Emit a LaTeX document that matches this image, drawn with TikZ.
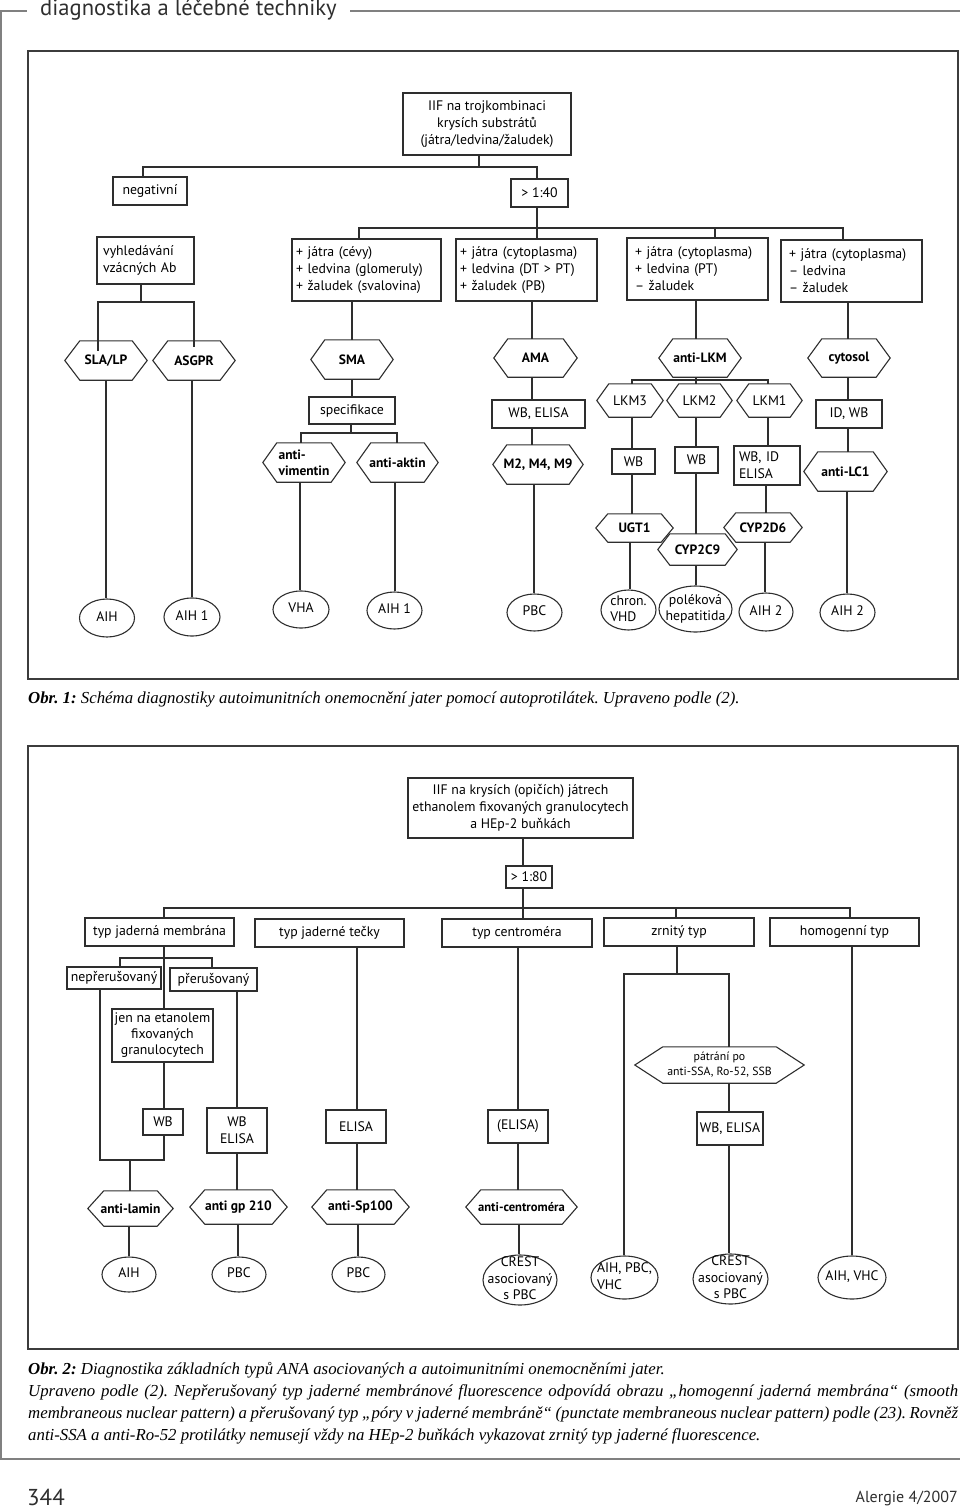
\documentclass[tikz,border=0pt]{standalone}
\usepackage{fontspec}
\setmainfont{Liberation Serif}
\newfontfamily\dgf{PT Sans}
\usetikzlibrary{shapes.geometric}
\definecolor{ink}{HTML}{2E2E2E}
\definecolor{frm}{HTML}{3C3C3C}
\definecolor{pgl}{HTML}{808080}
\newcommand\eltext[2][c]{\makebox[0pt]{\raisebox{-3.7pt}[0pt][0pt]{\begin{tabular}[c]{@{}#1@{}}#2\end{tabular}}}}
\newcommand\conn[3]{\coordinate (cx) at (#3,0); \draw[ln] (#1.south -| cx) -- (#2.north -| cx);}
\newcommand\capf{\frenchspacing\itshape\fontsize{16.8}{22}\selectfont}
\begin{document}
\begin{tikzpicture}[x=1pt,y=-1pt,
 ln/.style={draw=ink,line width=1.1pt},
 box/.style={draw=ink,line width=1.1pt,inner sep=2pt,align=center,font=\dgf\fontsize{13.8}{17}\selectfont},
 hx/.style={inner sep=0pt,align=center,font=\dgf\bfseries\fontsize{13.5}{16}\selectfont},
 hxr/.style={hx,font=\dgf\fontsize{13.8}{16}\selectfont},
 ell/.style={draw=ink,line width=1.1pt,ellipse,inner sep=0pt,font=\dgf\fontsize{13.8}{16.5}\selectfont},
 frame/.style={draw=frm,line width=1.2pt},
 pg/.style={draw=pgl,line width=1.2pt}]
\useasboundingbox (0,0) rectangle (960,1512);

% page furniture
\node[anchor=west,inner sep=0pt,text=ink,font=\dgf\fontsize{22.6}{22.6}\selectfont] (hdr) at (40,10) {diagnostika a léčebné techniky};
\draw[pg] (0,11) -- (27,11);
\draw[pg] (350,11) -- (960,11);
\draw[pg] (1,11) -- (1,1459) -- (960,1459);
\node[anchor=west,inner sep=0pt,text=ink,font=\dgf\fontsize{23}{23}\selectfont] (pnum) at (27,1497) {344};
\node[anchor=east,inner sep=0pt,text=ink,font=\dgf\fontsize{16}{16}\selectfont] (journal) at (958,1498) {Alergie 4/2007};

% frames
\draw[frame] (28,51) rectangle (958,679);
\draw[frame] (28,746) rectangle (958,1349);

% captions
\node[anchor=west,inner sep=0pt,font=\capf] (cap1) at (28,699) {\textbf{Obr. 1:} Schéma diagnostiky autoimunitních onemocnění jater pomocí autoprotilátek. Upraveno podle (2).};
\node[anchor=west,inner sep=0pt,font=\capf] (cap2a) at (28,1370) {\textbf{Obr. 2:} Diagnostika základních typů ANA asociovaných a autoimunitními onemocněními jater.};
\node[anchor=west,inner sep=0pt,font=\capf] (cap2b) at (28,1392) {\makebox[930pt][s]{Upraveno podle (2). Nepřerušovaný typ jaderné membránové fluorescence odpovídá obrazu „homogenní jaderná membrána“ (smooth}};
\node[anchor=west,inner sep=0pt,font=\capf] (cap2c) at (28,1414) {\makebox[930pt][s]{membraneous nuclear pattern) a přerušovaný typ „póry v jaderné membráně“ (punctate membraneous nuclear pattern) podle (23). Rovněž}};
\node[anchor=west,inner sep=0pt,font=\capf] (cap2d) at (28,1436) {anti-SSA a anti-Ro-52 protilátky nemusejí vždy na HEp-2 buňkách vykazovat zrnitý typ jaderné fluorescence.};

% ===== top chart =====
\node[box,minimum width=168pt,minimum height=62pt] (root1) at (487,124) {IIF na trojkombinaci\\krysích substrátů\\(játra/ledvina/žaludek)};
\node[box,minimum width=74pt,minimum height=28pt] (neg) at (150,191) {negativní};
\node[box,minimum width=57pt,minimum height=28pt] (t40) at (539.5,193) {> 1:40};
\node[box,align=left,text width=85pt,inner xsep=6pt,minimum height=47pt] (vyh) at (145.5,260.5) {vyhledávání\\vzácných Ab};
\node[box,align=left,text width=141pt,inner xsep=4pt,minimum height=62pt] (b1) at (366.5,270) {+ játra (cévy)\\+ ledvina (glomeruly)\\+ žaludek (svalovina)};
\node[box,align=left,text width=133pt,inner xsep=4pt,minimum height=62pt] (b2) at (526.5,270) {+ játra (cytoplasma)\\+ ledvina (DT > PT)\\+ žaludek (PB)};
\node[box,align=left,text width=125pt,inner xsep=8pt,minimum height=62pt] (b3) at (697.5,269) {+ játra (cytoplasma)\\+ ledvina (PT)\\– žaludek};
\node[box,align=left,text width=125pt,inner xsep=8pt,minimum height=62pt] (b4) at (851.5,271) {+ játra (cytoplasma)\\– ledvina\\– žaludek};

\node[hx,minimum width=82pt,minimum height=39pt] (slalp) at (106,360.5) {SLA/LP};
\node[hx,minimum width=82pt,minimum height=39pt] (asgpr) at (194,360.5) {ASGPR};
\node[hx,minimum width=82pt,minimum height=39pt] (sma) at (352,359.5) {SMA};
\node[hx,minimum width=83pt,minimum height=38pt] (ama) at (535.5,358) {AMA};
\node[hx,minimum width=82pt,minimum height=38pt] (alkm) at (700,358) {anti-LKM};
\node[hx,minimum width=82pt,minimum height=38pt] (cyto) at (849,358) {cytosol};

\node[box,minimum width=86pt,minimum height=27pt] (spec) at (352,410.5) {specifikace};
\node[hx,align=left,minimum width=82pt,minimum height=39pt] (vim) at (304,462.5) {anti-\\vimentin};
\node[hx,minimum width=81pt,minimum height=39pt] (akt) at (397.5,462.5) {anti-aktin};
\node[box,minimum width=93pt,minimum height=28pt] (wbe) at (538.5,414) {WB, ELISA};
\node[hx,minimum width=90pt,minimum height=39pt] (m249) at (538,464.5) {M2, M4, M9};
\node[hxr,minimum width=66pt,minimum height=33pt] (lkm3) at (630,400.5) {LKM3};
\node[hxr,minimum width=65pt,minimum height=33pt] (lkm2) at (699.5,400.5) {LKM2};
\node[hxr,minimum width=65pt,minimum height=33pt] (lkm1) at (769.5,400.5) {LKM1};
\node[box,minimum width=43pt,minimum height=25pt] (wb3) at (633.5,461.5) {WB};
\node[box,minimum width=43pt,minimum height=26pt] (wb2) at (696.5,460) {WB};
\node[box,align=left,text width=56pt,inner xsep=5pt,minimum height=39pt] (wbid) at (767,465.5) {WB, ID\\ELISA};
\node[box,minimum width=66pt,minimum height=28pt] (idwb) at (849,414) {ID, WB};
\node[hx,minimum width=83pt,minimum height=39pt] (lc1) at (845.5,471.5) {anti-LC1};
\node[hx,minimum width=77pt,minimum height=28pt] (ugt1) at (634.5,528) {UGT1};
\node[hx,minimum width=79pt,minimum height=31pt] (c2c9) at (697.5,549.5) {CYP2C9};
\node[hx,minimum width=78pt,minimum height=29pt] (c2d6) at (763,527.5) {CYP2D6};

\node[ell,minimum width=55pt,minimum height=38pt] (e1) at (107,618) {\eltext{AIH}};
\node[ell,minimum width=56pt,minimum height=38pt] (e2) at (192,617) {\eltext{AIH 1}};
\node[ell,minimum width=56pt,minimum height=37pt] (e3) at (301,609.5) {\eltext{VHA}};
\node[ell,minimum width=55pt,minimum height=37pt] (e4) at (394.5,610.5) {\eltext{AIH 1}};
\node[ell,minimum width=55pt,minimum height=37pt] (e5) at (534.5,612.5) {\eltext{PBC}};
\node[ell,minimum width=55pt,minimum height=40pt] (e6) at (628.5,610) {\eltext[l]{chron.\\VHD}};
\node[ell,minimum width=73pt,minimum height=46pt] (e7) at (695.5,609) {\eltext{poléková\\hepatitida}};
\node[ell,minimum width=54pt,minimum height=38pt] (e8) at (766,612) {\eltext{AIH 2}};
\node[ell,minimum width=55pt,minimum height=37pt] (e9) at (847.5,612.5) {\eltext{AIH 2}};

% ===== bottom chart =====
\node[box,minimum width=225pt,minimum height=60pt] (root2) at (520.5,808) {IIF na krysích (opičích) játrech\\ethanolem fixovaných granulocytech\\a HEp-2 buňkách};
\node[box,minimum width=46pt,minimum height=22pt] (t80) at (529,877) {> 1:80};
\node[box,minimum width=149pt,minimum height=28pt] (tjm) at (159.5,932) {typ jaderná membrána};
\node[box,minimum width=149pt,minimum height=28pt] (tjt) at (329.5,933) {typ jaderné tečky};
\node[box,minimum width=150pt,minimum height=28pt] (tc) at (517,933) {typ centroméra};
\node[box,minimum width=150pt,minimum height=28pt] (zt) at (679,932) {zrnitý typ};
\node[box,minimum width=149pt,minimum height=28pt] (ht) at (844.5,932) {homogenní typ};
\node[box,minimum width=94pt,minimum height=22pt] (nep) at (114,978) {nepřerušovaný};
\node[box,minimum width=87pt,minimum height=23pt] (pre) at (213.5,979.5) {přerušovaný};
\node[box,minimum width=101pt,minimum height=53pt,font=\dgf\fontsize{13.8}{16}\selectfont] (jen) at (162.5,1035.5) {jen na etanolem\\fixovaných\\granulocytech};
\node[box,minimum width=40pt,minimum height=26pt] (wbA) at (163,1122) {WB};
\node[box,minimum width=60pt,minimum height=45pt] (wbel) at (237,1130.5) {WB\\ELISA};
\node[box,minimum width=60pt,minimum height=33pt] (elisa) at (356,1126.5) {ELISA};
\node[box,minimum width=60pt,minimum height=33pt] (pelisa) at (518,1126.5) {(ELISA)};
\node[hxr,minimum width=169pt,minimum height=36pt,font=\dgf\fontsize{11.8}{15}\selectfont] (patr) at (719.5,1065) {pátrání po\\anti-SSA, Ro-52, SSB};
\node[box,minimum width=66pt,minimum height=33pt] (wbel2) at (730,1128.5) {WB, ELISA};
\node[hx,minimum width=85pt,minimum height=35pt] (lamin) at (130.5,1208.5) {anti-lamin};
\node[hx,minimum width=97pt,minimum height=34pt] (gp210) at (238.5,1207) {anti gp 210};
\node[hx,minimum width=97pt,minimum height=34pt] (sp100) at (360.5,1207) {anti-Sp100};
\node[hx,minimum width=111pt,minimum height=34pt,font=\dgf\bfseries\fontsize{12.6}{14}\selectfont] (centr) at (521.5,1207) {anti-centroméra};

\node[ell,minimum width=54pt,minimum height=35pt] (f1) at (129,1274.5) {\eltext{AIH}};
\node[ell,minimum width=54pt,minimum height=35pt] (f2) at (239,1274.5) {\eltext{PBC}};
\node[ell,minimum width=53pt,minimum height=35pt] (f3) at (358.5,1274.5) {\eltext{PBC}};
\node[ell,minimum width=74pt,minimum height=50pt] (f4) at (520,1280) {\eltext{CREST\\asociovaný\\s PBC}};
\node[ell,minimum width=67pt,minimum height=43pt] (f5) at (624.5,1277.5) {\eltext[l]{AIH, PBC,\\VHC}};
\node[ell,minimum width=75pt,minimum height=50pt] (f6) at (730.5,1279) {\eltext{CREST\\asociovaný\\s PBC}};
\node[ell,minimum width=68pt,minimum height=43pt] (f7) at (852,1277.5) {\eltext{AIH, VHC}};

% hexagon outlines
\foreach \n/\d in {slalp/15,asgpr/15,sma/14,ama/14,alkm/14,cyto/14,vim/14,akt/14,m249/14,lc1/14,lkm3/12,lkm2/12,lkm1/12,ugt1/12,c2c9/12,c2d6/12,patr/28,lamin/16,gp210/15,sp100/15,centr/15}
  \draw[ln] (\n.west) -- ([xshift=\d]\n.north west) -- ([xshift=-\d]\n.north east) -- (\n.east) -- ([xshift=-\d]\n.south east) -- ([xshift=\d]\n.south west) -- cycle;

% ===== connectors top =====
\coordinate (j1) at (479,167); \coordinate (j1l) at (143,167); \coordinate (j1r) at (537,167);
\draw[ln] (root1.south -| j1) -- (j1);
\draw[ln] (neg.north -| j1l) -- (j1l) -- (j1r) -- (t40.north -| j1r);
\coordinate (j2l) at (359,228); \coordinate (j2r) at (843,228); \coordinate (j2b) at (537,228); \coordinate (j2c) at (715,228);
\draw[ln] (t40.south -| j2b) -- (b2.north -| j2b);
\draw[ln] (b1.north -| j2l) -- (j2l) -- (j2r) -- (b4.north -| j2r);
\draw[ln] (j2c) -- (b3.north -| j2c);
\coordinate (j3) at (141,302); \coordinate (j3l) at (98,302); \coordinate (j3r) at (194,302);
\draw[ln] (vyh.south -| j3) -- (j3);
\draw[ln] ([yshift=-10pt]slalp.north -| j3l) -- (j3l) -- (j3r) -- ([yshift=-6pt]asgpr.north -| j3r);
\conn{b1}{sma}{352} \conn{b2}{ama}{532} \conn{b3}{alkm}{696} \conn{b4}{cyto}{848}
\conn{slalp}{e1}{106} \conn{asgpr}{e2}{192}
\conn{sma}{spec}{352}
\coordinate (j4) at (351,433); \coordinate (j4l) at (301,433); \coordinate (j4r) at (397,433);
\draw[ln] (spec.south -| j4) -- (j4);
\draw[ln] (vim.north -| j4l) -- (j4l) -- (j4r) -- (akt.north -| j4r);
\conn{vim}{e3}{300} \conn{akt}{e4}{395}
\conn{ama}{wbe}{532} \conn{wbe}{m249}{532} \conn{m249}{e5}{534}
\coordinate (j5) at (696,380); \coordinate (j5l) at (632,380); \coordinate (j5r) at (768,380);
\draw[ln] (alkm.south -| j5) -- (lkm2.north -| j5);
\draw[ln] (lkm3.north -| j5l) -- (j5l) -- (j5r) -- (lkm1.north -| j5r);
\conn{lkm3}{wb3}{632} \conn{wb3}{ugt1}{632} \conn{ugt1}{e6}{630}
\conn{lkm2}{wb2}{696} \conn{wb2}{c2c9}{696} \conn{c2c9}{e7}{696}
\conn{lkm1}{wbid}{768} \conn{wbid}{c2d6}{766} \conn{c2d6}{e8}{765}
\conn{cyto}{idwb}{848} \conn{idwb}{lc1}{848} \conn{lc1}{e9}{847}

% ===== connectors bottom =====
\conn{root2}{t80}{523}
\coordinate (k1) at (523,908); \coordinate (k1l) at (164,908); \coordinate (k1r) at (850,908); \coordinate (k1z) at (676,908);
\draw[ln] (t80.south -| k1) -- (tc.north -| k1);
\draw[ln] (tjm.north -| k1l) -- (k1l) -- (k1r) -- (ht.north -| k1r);
\draw[ln] (k1z) -- (zt.north -| k1z);
\conn{tjm}{jen}{164}
\coordinate (k2l) at (120,958); \coordinate (k2r) at (212,958);
\draw[ln] (nep.north -| k2l) -- (k2l) -- (k2r) -- (pre.north -| k2r);
\conn{jen}{wbA}{164}
\coordinate (k3l) at (100,1160); \coordinate (k3r) at (164,1160); \coordinate (k3m) at (130,1160);
\draw[ln] (nep.south -| k3l) -- (k3l) -- (k3r) -- (wbA.south -| k3r);
\draw[ln] (k3m) -- (lamin.north -| k3m);
\conn{lamin}{f1}{129}
\conn{pre}{wbel}{237} \conn{wbel}{gp210}{237} \conn{gp210}{f2}{238}
\conn{tjt}{elisa}{357} \conn{elisa}{sp100}{357} \conn{sp100}{f3}{358}
\conn{tc}{pelisa}{518} \conn{pelisa}{centr}{518} \conn{centr}{f4}{519}
\coordinate (k4) at (677,974); \coordinate (k4l) at (624,974); \coordinate (k4r) at (729,974);
\draw[ln] (zt.south -| k4) -- (k4);
\draw[ln] (f5.north -| k4l) -- (k4l) -- (k4r) -- (patr.north -| k4r);
\conn{patr}{wbel2}{729} \conn{wbel2}{f6}{729}
\conn{ht}{f7}{852}
\end{tikzpicture}
\end{document}
